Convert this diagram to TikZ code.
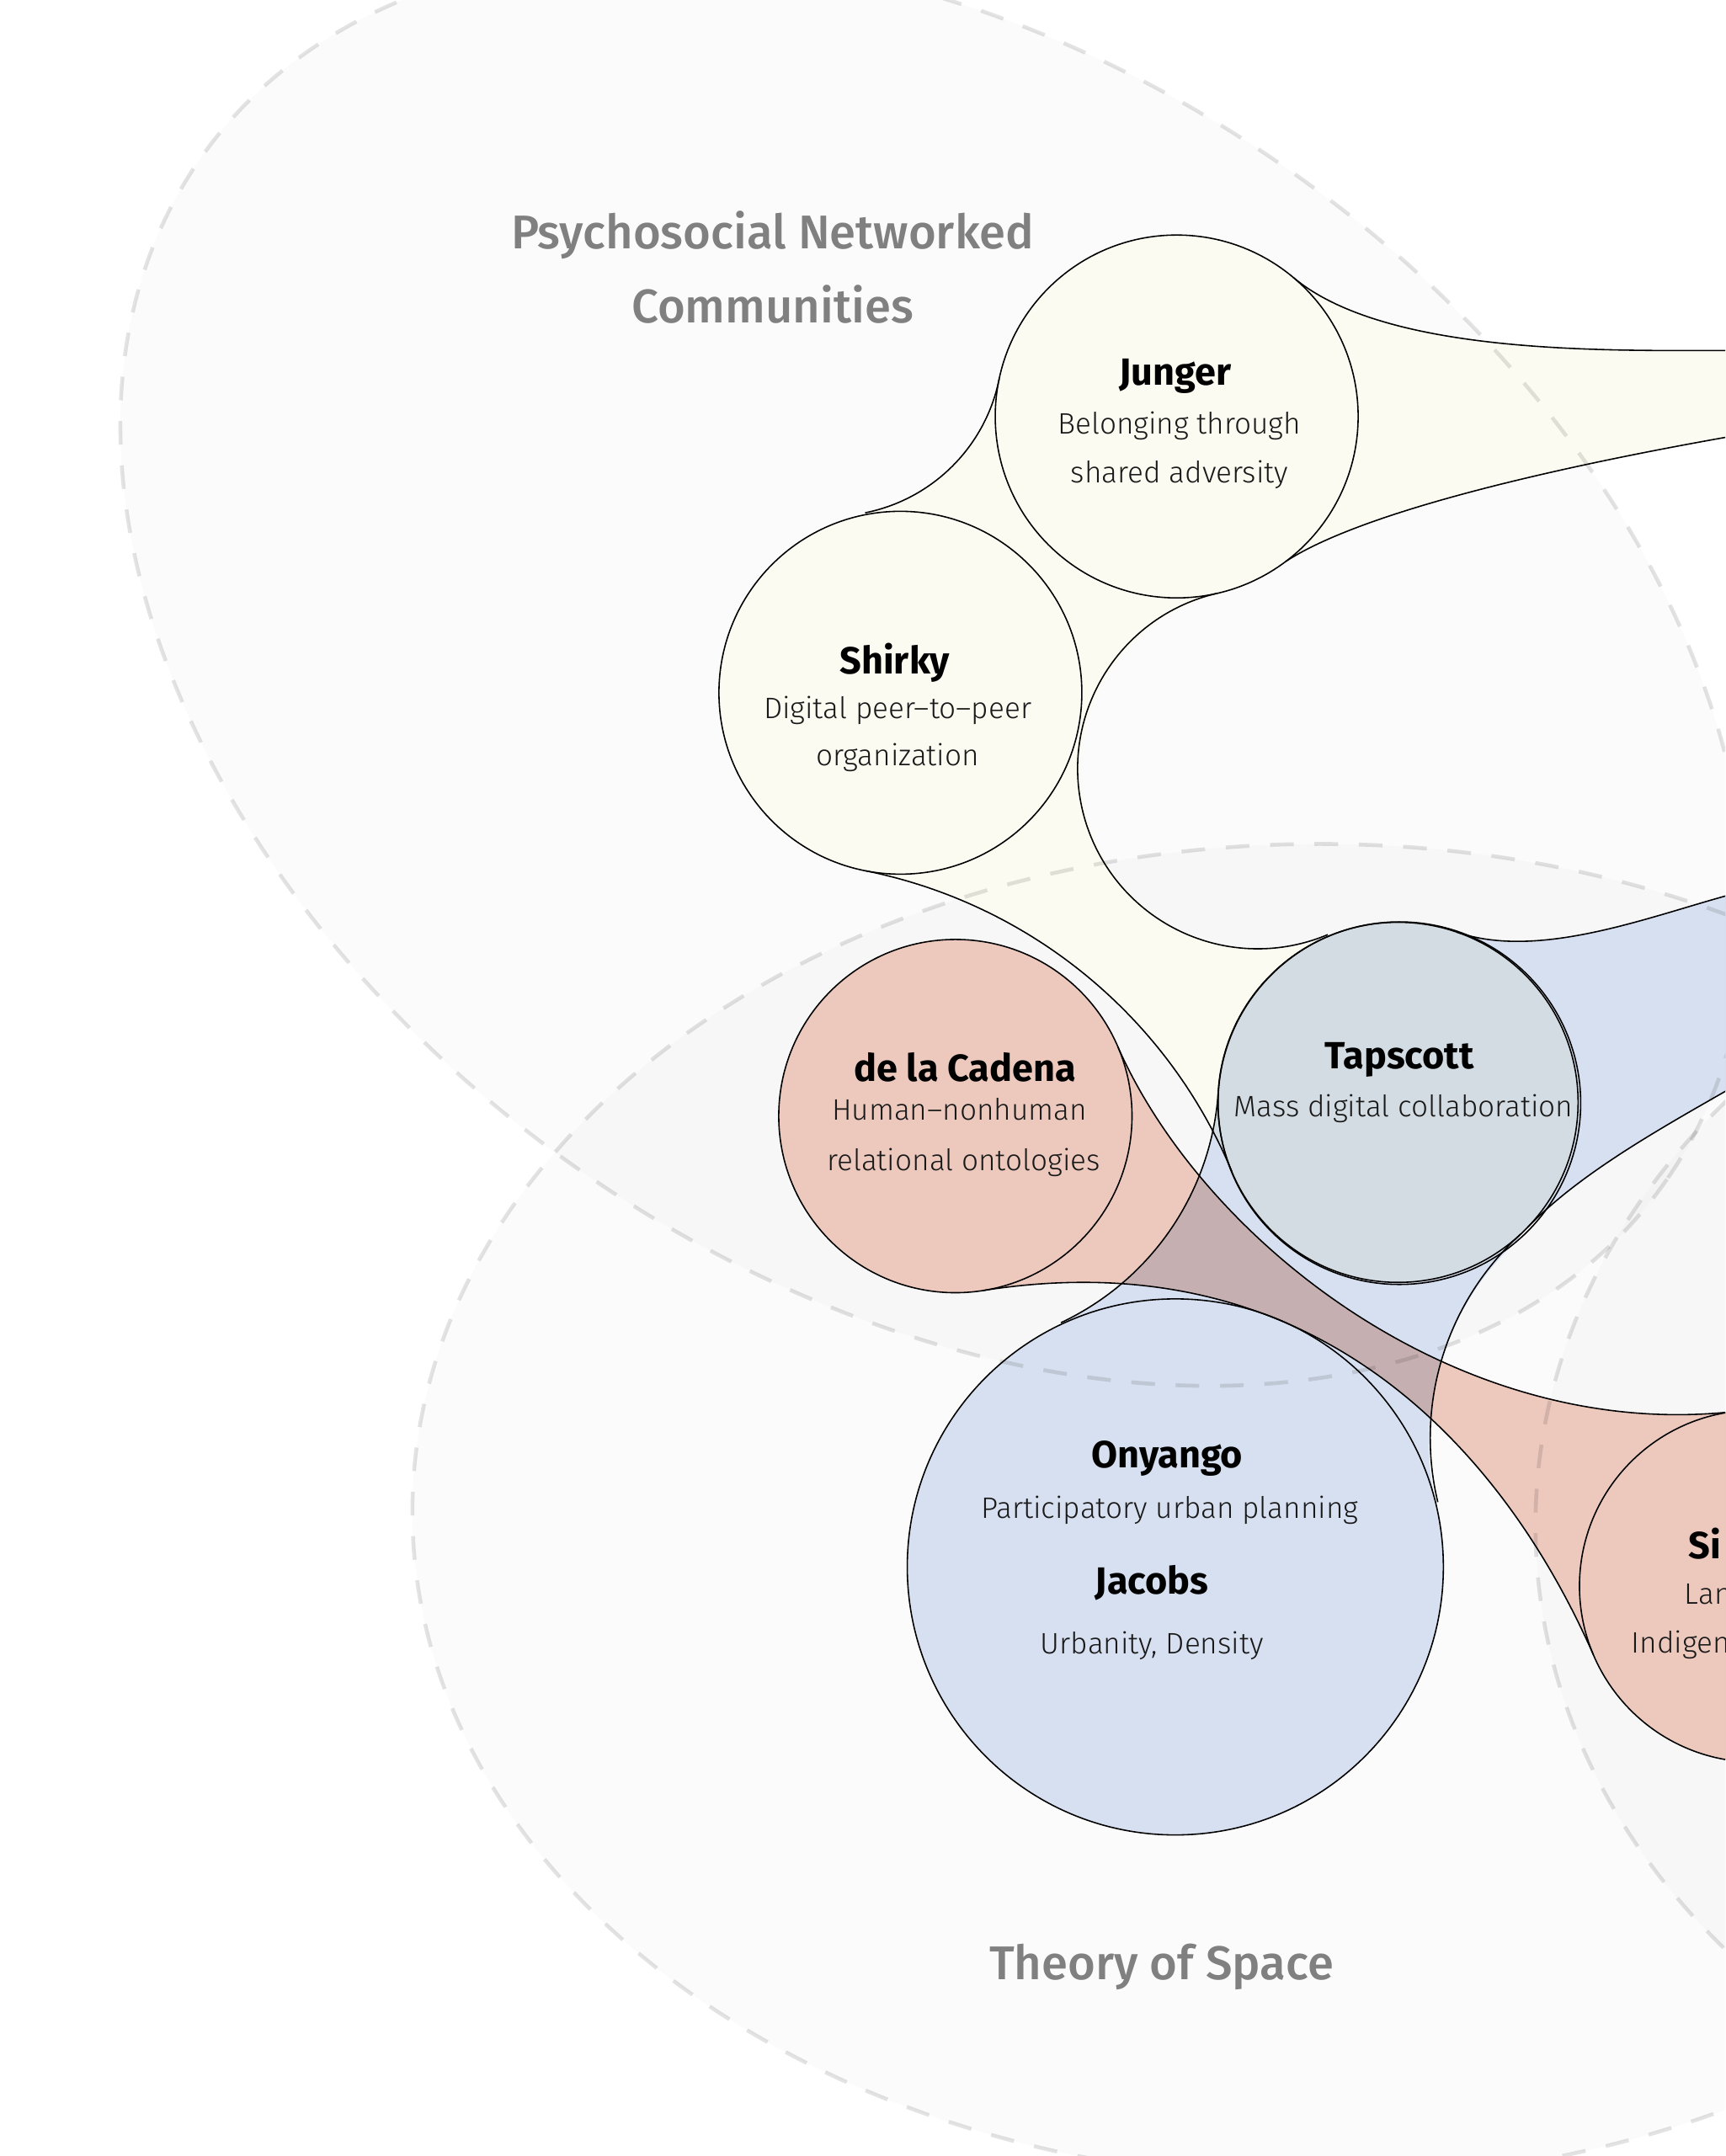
\documentclass[tikz,border=0pt]{standalone}
\usepackage{fontspec}
\setmainfont{Fira Sans}
\newcommand{\namefont}{\bfseries}
\IfFontExistsTF{Fira Sans Light}{\newfontfamily\notefont{Fira Sans Light}}{\newfontfamily\notefont{Fira Sans}}
\IfFontExistsTF{Fira Sans Medium}{\newfontfamily\zonefont{Fira Sans Medium}}{\newfontfamily\zonefont{Fira Sans}}
\newcommand{\pxl}{0.16327mm}
\definecolor{creamfill}{RGB}{251,251,241}
\definecolor{bluefill}{RGB}{215,224,240}
\definecolor{salmonfill}{RGB}{236,200,189}

% the three groups, drawn once as white underlay and once in colour
\newcommand{\creamgroup}[1]{%
	\fill[#1] (jun) circle[radius=132] (shi) circle[radius=132] (tap) circle[radius=131];
	\fill[#1] (jun.center) -- (jun.168.7) arc[start angle=11.3, end angle=78.7, radius=124.3]
		-- (shi.center) -- (shi.-101.4) arc[start angle=-78.6, end angle=-22.5, radius=367]
		-- (tap.center) -- (tap.112.8) arc[start angle=67.1, end angle=257.1, radius=131] -- cycle;
	\fill[#1] (jun.center) -- (jun.50) to[out=-40, in=180, looseness=0.7] (creamU) -- ++(80,0)
		-- (1342,303) -- (creamL) to[out=190, in=33, looseness=0.6] (jun.-53) -- cycle;
}
\newcommand{\bluegroup}[1]{%
	\fill[#1] (tap) circle[radius=131] (ony) circle[radius=195];
	\fill[#1] (tap.center) -- (tap.176.7) arc[start angle=3.3, end angle=64.8, radius=200]
		-- (ony.center) -- (ony.13.6) arc[start angle=166.5, end angle=227.9, radius=200] -- cycle;
	\fill[#1] (tap.center) -- (tap.71) to[out=-19, in=195, looseness=0.8] (blueU) -- ++(80,-22)
		-- (1342,744) -- (blueL) to[out=210, in=46, looseness=0.8] (tap.-44) -- cycle;
}
\newcommand{\salmongroup}[1]{%
	\fill[#1] (dlc) circle[radius=128.5] (sim) circle[radius=128];
	\fill[#1] (dlc.center) -- (dlc.23.8) to[out=-66.2, in=186.7, out looseness=0.75, in looseness=1] (sim.96.7)
		-- (sim.center) -- (sim.203.9) to[out=113.9, in=9, out looseness=0.39, in looseness=1.47] (dlc.-81) -- cycle;
}

\begin{document}
\begin{tikzpicture}[x=\pxl, y=-\pxl,
	person/.style={circle, inner sep=0pt, outer sep=0pt, minimum size={2*#1*\pxl}},
	bridge/.style={draw, line width=0.45pt},
	zonefill/.style={fill=black, fill opacity=0.015},
	zoneline/.style={draw=black, draw opacity=0.11, line width=1.3pt, dash pattern=on 8pt off 7pt},
	who/.style={anchor=base, inner sep=0pt, font=\namefont\fontsize{12.8}{14}\selectfont},
	what/.style={anchor=base, inner sep=0pt, font=\notefont\fontsize{10}{12}\selectfont, text=black!90},
	zonename/.style={anchor=base, inner sep=0pt, font=\zonefont\fontsize{16}{18}\selectfont, text=black!50}]

\useasboundingbox (0,0) rectangle (1255,1568.6);
\clip (0,0) rectangle (1255,1568.6);
\fill[white] (0,0) rectangle (1255,1568.6);

% theme zones
\foreach \cx/\cy/\rx/\ry/\rot in {679/487/650/446/-34.8, 960/1100/660/486/0, 1700/1110/583/477/0}
	{
	\fill[zonefill, rotate around={\rot:(\cx,\cy)}] (\cx,\cy) ellipse[x radius=\rx, y radius=\ry];
	}

% authors
\node[person=132] (jun) at (856,303) {};
\node[person=132] (shi) at (655,504) {};
\node[person=131] (tap) at (1017,802) {};
\node[person=128.5] (dlc) at (695,812) {};
\node[person=195] (ony) at (855,1140) {};
\node[person=128] (sim) at (1277,1154) {};

\coordinate (creamU) at (1262,255);
\coordinate (creamL) at (1262,317);
\coordinate (blueU) at (1262,650);
\coordinate (blueL) at (1262,790);

% groups
\creamgroup{white}
\bluegroup{white}
\salmongroup{white}
\begin{scope}[blend mode=multiply]
	\begin{scope}[transparency group]
		\creamgroup{creamfill}
	\end{scope}
	\begin{scope}[transparency group]
		\bluegroup{bluefill}
	\end{scope}
	\begin{scope}[transparency group]
		\salmongroup{salmonfill}
	\end{scope}
\end{scope}

% outlines
\foreach \who/\r in {jun/132, shi/132, tap/131, dlc/128.5, ony/195, sim/128}
	{
	\draw[bridge] (\who) circle[radius=\r];
	}
\draw[bridge] (tap.center) ++(1,0.6) circle[radius=131.9];
\draw[bridge] (jun.168.7) arc[start angle=11.3, end angle=78.7, radius=124.3];
\draw[bridge] (jun.-77.1) arc[start angle=257.1, end angle=67.1, radius=131];
\draw[bridge] (shi.-101.4) arc[start angle=-78.6, end angle=-22.5, radius=367];
\draw[bridge] (jun.50) to[out=-40, in=180, looseness=0.7] (creamU) -- ++(80,0);
\draw[bridge] (jun.-53) to[out=33, in=190, looseness=0.6] (creamL) -- ++(80,-14);
\draw[bridge] (tap.71) to[out=-19, in=195, looseness=0.8] (blueU) -- ++(80,-22);
\draw[bridge] (tap.-44) to[out=46, in=210, looseness=0.8] (blueL) -- ++(80,-46);
\draw[bridge] (tap.176.7) arc[start angle=3.3, end angle=64.8, radius=200];
\draw[bridge] (tap.-47.9) arc[start angle=227.9, end angle=166.5, radius=200];
\draw[bridge] (dlc.23.8) to[out=-66.2, in=186.7, out looseness=0.75, in looseness=1] (sim.96.7);
\draw[bridge] (dlc.-81) to[out=9, in=113.9, out looseness=1.47, in looseness=0.39] (sim.203.9);

\foreach \cx/\cy/\rx/\ry/\rot in {679/487/650/446/-34.8, 960/1100/660/486/0, 1700/1110/583/477/0}
	{
	\draw[zoneline, rotate around={\rot:(\cx,\cy)}] (\cx,\cy) ellipse[x radius=\rx, y radius=\ry];
	}

% texts
\node[zonename] (psyA) at (562,181) {Psychosocial Networked};
\node[zonename] (psyB) at (562,235) {Communities};
\node[zonename] (spc) at (845,1440) {Theory of Space};

\node[who] (junT) at (855,280) {Junger};
\node[what] (junA) at (858,316) {Belonging through};
\node[what] (junB) at (858,351) {shared adversity};

\node[who] (shiT) at (651,490) {Shirky};
\node[what] (shiA) at (653,522.5) {Digital peer–to–peer};
\node[what] (shiB) at (653,557) {organization};

\node[who] (tapT) at (1018,777.5) {Tapscott};
\node[what] (tapA) at (1021,812.5) {Mass digital collaboration};

\node[who] (dlcT) at (702,787) {de la Cadena};
\node[what] (dlcA) at (698,815) {Human–nonhuman};
\node[what] (dlcB) at (701,851.7) {relational ontologies};

\node[who] (onyT) at (849,1067.7) {Onyango};
\node[what] (onyA) at (851,1104.6) {Participatory urban planning};
\node[who] (jacT) at (838,1160) {Jacobs};
\node[what] (jacA) at (838,1203) {Urbanity, Density};

\node[who, anchor=base west] (simT) at (1228,1134) {Si};
\node[what, anchor=base west] (simA) at (1225,1167.3) {Lan};
\node[what, anchor=base west] (simB) at (1186.5,1202.4) {Indigen};
\end{tikzpicture}
\end{document}
